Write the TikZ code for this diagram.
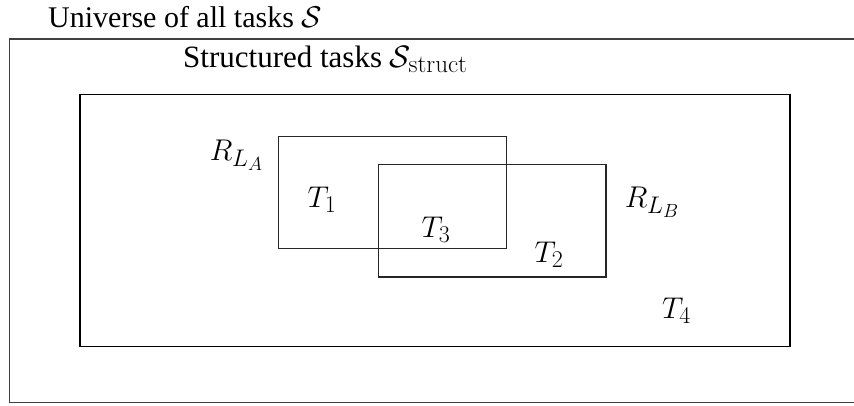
\RequirePackage{fix-cm}
\documentclass[tikz,border=0pt]{standalone}
\usepackage[no-math]{fontspec}
\setmainfont{Liberation Serif}
\DeclareMathSizes{30}{30}{24}{19}
\DeclareMathSizes{31}{31}{25}{20}
\begin{document}
\begin{tikzpicture}[x=1pt,y=-1pt,
  box/.style={draw=black!85,line width=1.3pt,inner sep=0pt,anchor=north west},
  title/.style={anchor=base west,inner sep=0pt,font=\fontsize{31}{36}\selectfont},
  lab/.style={anchor=base,inner sep=0pt,font=\fontsize{30}{36}\selectfont}]
\useasboundingbox (0,0) rectangle (854,405);
\node[box,draw=black!75,minimum width=850pt,minimum height=363.2pt] (outer) at (8.7,38.3) {};
\node[box,draw=black,minimum width=710pt,minimum height=251.7pt] (inner) at (79.3,94) {};
\node[box,minimum width=228.3pt,minimum height=112pt] (ra) at (277.7,135.7) {};
\node[box,minimum width=227.6pt,minimum height=112.3pt] (rb) at (377.7,164) {};
\node[title,font=\fontsize{30}{35}\selectfont] (tU) at (48,27) {Universe of all tasks $\mathcal{S}$};
\node[title] (tS) at (183,67.5) {Structured tasks $\mathcal{S}_{\mathrm{struct}}$};
\node[lab] (rla) at (236.5,160) {$R_{L_A}$};
\node[lab] (t1) at (322,207) {$T_1$};
\node[lab] (t3) at (436,237) {$T_3$};
\node[lab] (rlb) at (652,207) {$R_{L_B}$};
\node[lab] (t2) at (549,262) {$T_2$};
\node[lab] (t4) at (676.5,318) {$T_4$};
\end{tikzpicture}
\end{document}
